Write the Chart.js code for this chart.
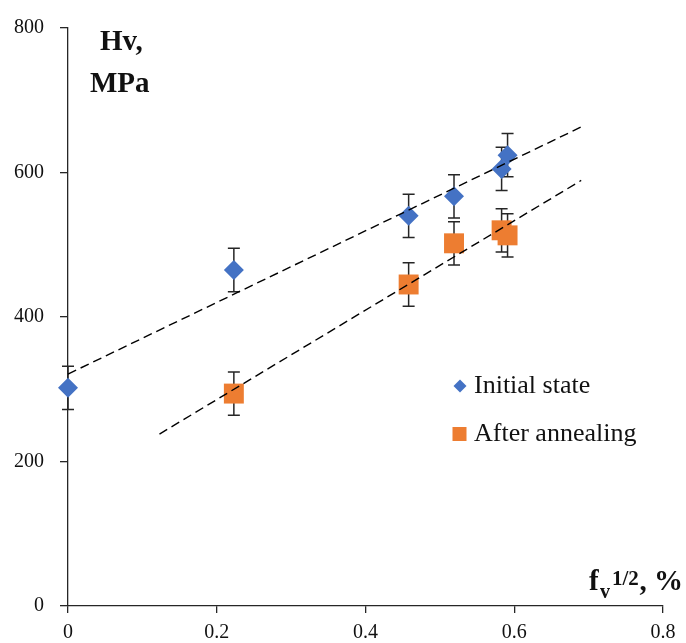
<!DOCTYPE html>
<html>
<head>
<meta charset="utf-8">
<script src="https://cdn.jsdelivr.net/npm/chart.js@4.4.1/dist/chart.umd.min.js"></script>
<style>
  html, body { margin: 0; padding: 0; background: #fff; }
  #wrap { position: relative; width: 686px; height: 643px; }
</style>
</head>
<body>
<div id="wrap"><canvas id="hvChart" width="686" height="643"></canvas></div>
<script>
// data
const initialX = [0, 0.223, 0.458, 0.519, 0.583, 0.591];
const initialHv = [302, 465, 540, 567, 605, 624];
const initialErr = [30, 30, 30, 30, 30, 30];

const annealX = [0.223, 0.458, 0.519, 0.583, 0.591];
const annealHv = [294, 445, 502, 520, 513];
const annealErr = [30, 30, 30, 30, 30];

// linear trend lines (end points as drawn)
const trendInitialX = [0, 0.69];
const trendInitialY = [321, 663];
const trendAnnealX = [0.123, 0.69];
const trendAnnealY = [238, 589];

const xTicks = [0, 0.2, 0.4, 0.6, 0.8];
const yTicks = [0, 200, 400, 600, 800];

const seriesNames = ['Initial state', 'After annealing'];

const BLUE = '#4472C4';
const ORANGE = '#ED7D31';
const AXIS = '#262626';
const SERIF = '"Liberation Serif", "Times New Roman", serif';

function pts(xs, ys) {
    return xs.map((x, i) => ({ x: x, y: ys[i] }));
}

// error bars, drawn under the markers
const errorBars = {
    id: 'errorBars',
    beforeDatasetsDraw(chart) {
        const ctx = chart.ctx;
        const xs = chart.scales.x, ys = chart.scales.y;
        const sets = [[initialX, initialHv, initialErr], [annealX, annealHv, annealErr]];
        ctx.save();
        ctx.strokeStyle = AXIS;
        ctx.lineWidth = 1.5;
        sets.forEach(([xv, yv, ev]) => {
            xv.forEach((x, i) => {
                const px = xs.getPixelForValue(x);
                const top = ys.getPixelForValue(yv[i] + ev[i]);
                const bot = ys.getPixelForValue(yv[i] - ev[i]);
                ctx.beginPath();
                ctx.moveTo(px, top); ctx.lineTo(px, bot);
                ctx.moveTo(px - 6, top); ctx.lineTo(px + 6, top);
                ctx.moveTo(px - 6, bot); ctx.lineTo(px + 6, bot);
                ctx.stroke();
            });
        });
        ctx.restore();
    }
};

// axis titles and legend
const labels = {
    id: 'labels',
    afterDraw(chart) {
        const ctx = chart.ctx;
        ctx.save();
        ctx.fillStyle = '#111';
        ctx.textBaseline = 'alphabetic';
        ctx.textAlign = 'left';

        ctx.font = 'bold 29px ' + SERIF;
        ctx.fillText('Hv,', 100, 50);
        ctx.fillText('MPa', 90, 92);

        ctx.font = 'bold 29px ' + SERIF;
        ctx.fillText('f', 589, 590);
        ctx.font = 'bold 20px ' + SERIF;
        ctx.fillText('v', 600, 598);
        ctx.font = 'bold 21px ' + SERIF;
        ctx.fillText('1/2', 612, 585);
        ctx.font = 'bold 29px ' + SERIF;
        ctx.textAlign = 'right';
        ctx.fillText(', %', 683, 590);

        // legend
        ctx.textAlign = 'left';
        ctx.fillStyle = BLUE;
        ctx.beginPath();
        ctx.moveTo(460, 379.5); ctx.lineTo(466.5, 386); ctx.lineTo(460, 392.5); ctx.lineTo(453.5, 386);
        ctx.closePath();
        ctx.fill();
        ctx.fillStyle = ORANGE;
        ctx.fillRect(452.5, 427, 14, 14);

        ctx.fillStyle = '#111';
        ctx.font = '26px ' + SERIF;
        ctx.fillText(seriesNames[0], 474, 393);
        ctx.fillText(seriesNames[1], 474, 441);
        ctx.restore();
    }
};

const axisGrid = {
    display: true,
    drawOnChartArea: false,
    drawTicks: true,
    color: AXIS,
    tickColor: AXIS,
    lineWidth: 1.3
};

new Chart(document.getElementById('hvChart'), {
    type: 'scatter',
    data: {
        datasets: [{
            label: 'trend initial',
            data: pts(trendInitialX, trendInitialY),
            showLine: true,
            borderColor: '#000',
            borderWidth: 1.4,
            borderDash: [9, 5],
            pointRadius: 0,
            clip: false,
            order: 0
        }, {
            label: 'trend annealed',
            data: pts(trendAnnealX, trendAnnealY),
            showLine: true,
            borderColor: '#000',
            borderWidth: 1.4,
            borderDash: [9, 5],
            pointRadius: 0,
            clip: false,
            order: 0
        }, {
            label: seriesNames[0],
            data: pts(initialX, initialHv),
            pointStyle: 'rectRot',
            pointRadius: 10,
            pointHoverRadius: 10,
            backgroundColor: BLUE,
            borderColor: BLUE,
            borderWidth: 0,
            clip: false,
            order: 1
        }, {
            label: seriesNames[1],
            data: pts(annealX, annealHv),
            pointStyle: 'rect',
            pointRadius: 14.1,
            pointHoverRadius: 14.1,
            backgroundColor: ORANGE,
            borderColor: ORANGE,
            borderWidth: 0,
            clip: false,
            order: 2
        }]
    },
    options: {
        responsive: false,
        animation: false,
        devicePixelRatio: 1,
        layout: { padding: { left: 0, top: 25, right: 23, bottom: 0 } },
        plugins: {
            legend: { display: false },
            tooltip: { enabled: false }
        },
        scales: {
            x: {
                type: 'linear',
                min: 0,
                max: 0.8,
                afterBuildTicks: (scale) => { scale.ticks = xTicks.map(v => ({ value: v })); },
                afterFit: (scale) => { scale.height = 37; },
                grid: Object.assign({}, axisGrid, { tickLength: 7 }),
                border: { display: true, color: AXIS, width: 1.3 },
                ticks: {
                    padding: 8,
                    color: '#111',
                    font: { family: SERIF, size: 20 },
                    callback: (v) => String(v)
                }
            },
            y: {
                type: 'linear',
                min: 0,
                max: 800,
                afterBuildTicks: (scale) => { scale.ticks = yTicks.map(v => ({ value: v })); },
                afterFit: (scale) => { scale.width = 68; },
                grid: Object.assign({}, axisGrid, { tickLength: 8 }),
                border: { display: true, color: AXIS, width: 1.3 },
                ticks: {
                    padding: 16,
                    color: '#111',
                    font: { family: SERIF, size: 20 },
                    callback: (v) => String(v)
                }
            }
        }
    },
    plugins: [errorBars, labels]
});
</script>
</body>
</html>
